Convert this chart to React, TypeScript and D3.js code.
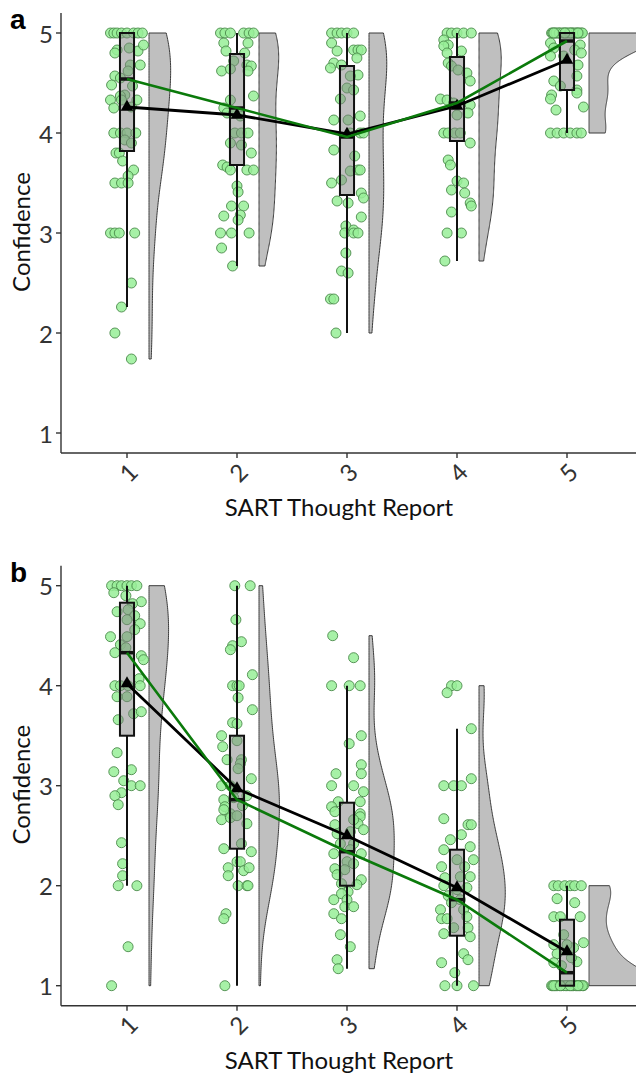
import React from "react";
import * as d3 from "d3";

// ---------- data ----------
const categories = [1, 2, 3, 4, 5];
const xTickLabels = ["1", "2", "3", "4", "5"];
const yTicks = [1, 2, 3, 4, 5];
const panelLetters = ["a", "b"];
const xTitle = "SART Thought Report";
const yTitle = "Confidence";

// jittered raw observations: [jitter offset (category units), confidence]
const pointsA1 = [
  [-0.15, 5], [-0.12, 5], [-0.09, 5], [-0.05, 5], [0.0, 5], [0.06, 5], [0.1, 5], [0.14, 5],
  [-0.09, 4.83], [0.02, 4.85], [0.1, 4.82], [0.15, 4.88], [-0.11, 4.8],
  [0.03, 4.68], [0.12, 4.68], [0.01, 4.62], [-0.11, 4.57], [-0.06, 4.55],
  [-0.14, 4.48], [0.05, 4.47], [-0.02, 4.38], [-0.06, 4.37], [-0.15, 4.33], [-0.05, 4.33], [0.09, 4.33], [-0.12, 4.25], [0.04, 4.26],
  [-0.12, 4], [-0.06, 4], [0.0, 4], [0.08, 4], [-0.02, 3.93], [0.04, 3.9],
  [-0.1, 3.8], [-0.07, 3.8], [-0.04, 3.72], [0.06, 3.63], [0.01, 3.57], [-0.11, 3.5], [-0.05, 3.5], [0.01, 3.5],
  [-0.15, 3], [-0.11, 3], [-0.07, 3], [0.07, 3], [0.04, 2.5], [-0.05, 2.26], [-0.11, 2], [0.04, 1.74],
];
const pointsA2 = [
  [-0.15, 5], [-0.11, 5], [-0.06, 5], [0.06, 5], [0.11, 5], [0.15, 5],
  [-0.12, 4.9], [-0.1, 4.82], [0.1, 4.9], [0.07, 4.8], [-0.03, 4.72], [0.09, 4.68], [0.13, 4.67], [-0.14, 4.62], [-0.06, 4.64], [0.1, 4.62],
  [0.15, 4.37], [-0.06, 4.33], [-0.12, 4.25], [-0.09, 4.2], [-0.03, 4.2], [0.03, 4.17],
  [-0.02, 4], [0.04, 4], [0.1, 4], [-0.06, 3.9], [0.04, 3.88], [0.13, 3.8],
  [-0.13, 3.68], [-0.09, 3.66], [-0.06, 3.63], [0.09, 3.63], [0.15, 3.63],
  [0.0, 3.47], [0.01, 3.41], [-0.05, 3.27], [0.06, 3.27], [0.03, 3.18], [-0.12, 3.17], [0.01, 3.13],
  [-0.15, 3], [-0.05, 3], [0.11, 3], [-0.14, 2.85], [-0.04, 2.67],
];
const pointsA3 = [
  [-0.14, 5], [-0.09, 5], [-0.05, 5], [0.0, 5], [0.06, 5],
  [-0.14, 4.9], [-0.09, 4.82], [0.06, 4.83], [0.1, 4.83], [0.13, 4.83], [0.09, 4.75], [-0.12, 4.7], [-0.15, 4.65], [-0.05, 4.68],
  [0.1, 4.58], [0.03, 4.57], [0.0, 4.45], [0.06, 4.43], [-0.06, 4.34], [0.12, 4.17], [-0.12, 4.13], [0.01, 4.13],
  [0.03, 4], [0.12, 4], [0.15, 4], [-0.12, 3.83], [0.07, 3.77],
  [0.03, 3.62], [0.1, 3.63], [0.12, 3.63], [-0.14, 3.5], [-0.05, 3.53],
  [-0.09, 3.32], [0.13, 3.4], [0.15, 3.35], [0.01, 3.3], [0.13, 3.16],
  [-0.01, 3.07], [0.06, 3.03],
  [-0.02, 3], [0.06, 3], [0.1, 3], [-0.01, 2.8], [-0.05, 2.62], [0.01, 2.6], [-0.15, 2.34], [-0.12, 2.34], [-0.1, 2.0],
];
const pointsA4 = [
  [-0.09, 5], [-0.05, 5], [0.0, 5], [0.06, 5], [0.13, 5],
  [-0.12, 4.93], [-0.08, 4.88], [-0.12, 4.87], [0.04, 4.82], [-0.09, 4.8],
  [-0.08, 4.7], [-0.05, 4.67], [0.01, 4.63], [0.09, 4.6], [0.12, 4.52],
  [-0.15, 4.34], [-0.09, 4.33], [-0.03, 4.3], [0.12, 4.28], [0.1, 4.2], [0.0, 4.18],
  [-0.12, 4], [-0.08, 4], [-0.02, 4], [0.03, 4], [0.12, 3.9],
  [-0.08, 3.73], [-0.06, 3.68], [0.0, 3.52], [0.06, 3.5], [-0.05, 3.43], [0.07, 3.4], [0.12, 3.3], [0.13, 3.27], [-0.05, 3.21],
  [-0.09, 3], [0.04, 3], [-0.11, 2.72],
];
const pointsA5 = [
  [-0.14, 5], [-0.11, 5], [-0.08, 5], [-0.03, 5], [0.0, 5], [0.04, 5], [0.09, 5], [0.13, 5], [-0.06, 5], [0.06, 5],
  [-0.13, 5], [-0.1, 5], [-0.07, 5], [-0.04, 5], [-0.01, 5], [0.02, 5], [0.05, 5], [0.08, 5], [0.11, 5], [0.14, 5],
  [-0.12, 5], [0.03, 5], [0.1, 5], [-0.02, 5],
  [-0.15, 4.9], [-0.12, 4.85], [0.12, 4.88], [0.07, 4.83], [0.13, 4.8], [-0.15, 4.77], [-0.03, 4.77], [0.1, 4.68],
  [0.09, 4.57], [-0.12, 4.52], [-0.06, 4.47], [0.09, 4.43], [-0.14, 4.38], [-0.15, 4.34], [0.09, 4.4], [0.15, 4.26], [-0.1, 4.23],
  [-0.15, 4], [-0.09, 4], [-0.03, 4], [0.03, 4], [0.09, 4], [0.13, 4],
];

const pointsB1 = [
  [-0.14, 5], [-0.09, 5], [-0.05, 5], [0.0, 5], [0.04, 5], [0.09, 5],
  [-0.12, 4.93], [-0.01, 4.9], [0.13, 4.84], [0.05, 4.82], [-0.09, 4.74], [0.01, 4.76], [0.07, 4.7], [0.0, 4.66], [0.12, 4.62], [0.07, 4.56],
  [0.0, 4.49], [-0.15, 4.49], [-0.06, 4.41], [-0.01, 4.38], [-0.11, 4.33], [0.13, 4.3], [0.15, 4.26], [0.11, 4.07],
  [-0.11, 4], [-0.06, 4], [0.01, 4], [0.12, 4], [0.0, 3.89], [-0.09, 3.89], [0.06, 3.72], [0.13, 3.74], [-0.08, 3.66],
  [-0.09, 3.33], [0.04, 3.16], [-0.12, 3.14], [-0.03, 3.05], [0.04, 3], [0.12, 3], [-0.05, 2.93], [-0.11, 2.9], [-0.08, 2.81],
  [-0.05, 2.43], [-0.04, 2.22], [-0.04, 2.1], [-0.08, 2], [0.09, 2], [0.01, 1.39], [-0.14, 1.0],
];
const pointsB2 = [
  [-0.02, 5], [0.12, 5], [-0.01, 4.66], [0.04, 4.44], [-0.04, 4.4], [-0.06, 4.36], [0.14, 4.11],
  [-0.04, 4], [0.0, 4], [0.02, 4], [0.01, 3.88], [0.14, 3.76],
  [-0.04, 3.63], [0.0, 3.62], [-0.14, 3.5], [-0.13, 3.39], [0.0, 3.45], [-0.09, 3.26], [0.04, 3.26], [0.03, 3.22], [0.01, 3.17], [0.13, 3.07],
  [-0.14, 3], [-0.06, 3], [-0.02, 2.96], [-0.12, 2.86], [-0.03, 2.88], [-0.11, 2.79], [-0.06, 2.72], [0.09, 2.9], [0.05, 2.8],
  [-0.12, 2.76], [-0.14, 2.66], [-0.06, 2.68], [0.09, 2.62], [0.0, 2.7], [0.04, 2.42], [0.13, 2.34], [-0.12, 2.37],
  [0.0, 2.24], [0.03, 2.24], [-0.08, 2.18], [0.06, 2.15], [0.11, 2.18], [-0.08, 2.1], [0.01, 2.0], [0.09, 2.0], [0.1, 2.0],
  [-0.1, 1.72], [-0.12, 1.67], [-0.11, 1.0],
];
const pointsB3 = [
  [-0.13, 4.5], [0.06, 4.28], [-0.14, 4], [0.02, 4], [0.12, 4], [0.02, 3.42], [0.13, 3.5], [0.13, 3.21], [0.13, 3.12], [-0.1, 3.12],
  [-0.14, 3], [0.06, 3], [0.15, 2.94], [-0.08, 2.84], [0.12, 2.84],
  [-0.14, 2.79], [-0.11, 2.74], [0.12, 2.72], [0.12, 2.69], [0.1, 2.62], [0.06, 2.66], [-0.11, 2.61], [0.15, 2.56], [0.03, 2.54], [-0.09, 2.52],
  [-0.06, 2.42], [0.06, 2.42], [0.03, 2.36], [-0.12, 2.32], [0.13, 2.32], [0.0, 2.24], [0.06, 2.22], [-0.11, 2.17], [-0.02, 2.16], [-0.09, 2.11],
  [0.13, 2.06], [-0.05, 2.02], [0.09, 2.01], [0.01, 1.94], [-0.05, 1.92], [-0.12, 1.86], [0.0, 1.86], [-0.02, 1.79], [0.06, 1.79],
  [-0.12, 1.72], [-0.05, 1.67], [-0.06, 1.51], [0.03, 1.39], [-0.09, 1.26], [-0.08, 1.17],
];
const pointsB4 = [
  [-0.05, 4], [0.0, 4], [-0.09, 3.93], [0.13, 3.57], [0.13, 3.07], [-0.12, 3], [-0.03, 3], [0.04, 3], [-0.12, 2.67],
  [0.1, 2.61], [0.13, 2.61], [0.04, 2.51], [-0.06, 2.46], [-0.12, 2.36], [0.12, 2.39], [0.15, 2.26], [0.0, 2.26], [0.07, 2.19], [-0.14, 2.19],
  [0.12, 2.09], [0.03, 2.09], [-0.11, 2.08], [-0.12, 2.0], [0.0, 1.96], [0.09, 1.98], [-0.08, 1.9], [0.03, 1.86], [-0.05, 1.83], [0.06, 1.76],
  [-0.15, 1.76], [-0.14, 1.67], [-0.09, 1.67], [0.09, 1.69], [0.1, 1.58], [-0.03, 1.58], [0.12, 1.49], [-0.12, 1.52],
  [0.06, 1.32], [0.1, 1.26], [-0.14, 1.23], [-0.02, 1.13], [-0.11, 1.0], [0.0, 1.0], [0.15, 1.0],
];
const pointsB5 = [
  [-0.12, 2], [-0.08, 2], [-0.02, 2], [0.03, 2], [0.07, 2], [0.13, 2],
  [-0.09, 1.87], [0.07, 1.83], [-0.12, 1.69], [-0.06, 1.69], [0.12, 1.69], [0.15, 1.43], [-0.03, 1.51], [0.06, 1.38],
  [-0.09, 1.32], [-0.12, 1.23], [-0.05, 1.2], [0.09, 1.24], [0.0, 1.41], [0.04, 1.28], [-0.12, 1.41],
  [-0.14, 1], [-0.09, 1], [-0.05, 1], [0.0, 1], [0.04, 1], [0.09, 1], [0.15, 1], [-0.11, 1], [0.06, 1], [0.12, 1],
  [-0.13, 1], [-0.1, 1], [-0.07, 1], [-0.03, 1], [0.02, 1], [0.05, 1], [0.08, 1], [0.11, 1], [0.14, 1],
  [-0.12, 1], [-0.01, 1], [0.03, 1], [0.1, 1], [-0.06, 1],
];

// box-plot summaries
const q1A = [3.82, 3.68, 3.38, 3.92, 4.43];
const medianA = [4.54, 4.25, 3.96, 4.3, 4.92];
const q3A = [5.0, 4.79, 4.67, 4.76, 5.0];
const whiskerLoA = [2.26, 2.67, 2.0, 2.72, 4.0];
const whiskerHiA = [5, 5, 5, 5, 5];
const meanA = [4.26, 4.18, 3.99, 4.27, 4.73];

const q1B = [3.5, 2.37, 2.0, 1.5, 1.0];
const medianB = [4.33, 2.86, 2.34, 1.86, 1.13];
const q3B = [4.83, 3.5, 2.83, 2.36, 1.66];
const whiskerLoB = [2.0, 1.0, 1.17, 1.0, 1.0];
const whiskerHiB = [5.0, 5.0, 4.0, 3.57, 2.0];
const meanB = [4.02, 2.97, 2.5, 1.98, 1.34];

// ---------- helpers ----------
function bwNrd0(v: number[]) {
  const s = [...v].sort((a, b) => a - b);
  const sd = d3.deviation(s) || 0;
  const iqr = (d3.quantileSorted(s, 0.75) as number) - (d3.quantileSorted(s, 0.25) as number);
  let lo = Math.min(sd, iqr / 1.34);
  if (!(lo > 0)) lo = sd || 1;
  return 0.9 * lo * Math.pow(s.length, -0.2);
}

function kde(v: number[]): [number, number][] {
  const bw = bwNrd0(v);
  const [mn, mx] = d3.extent(v) as [number, number];
  const c = 1 / (v.length * bw * Math.sqrt(2 * Math.PI));
  return d3.range(0, 201).map((i) => {
    const y = mn + ((mx - mn) * i) / 200;
    return [y, c * d3.sum(v, (x) => Math.exp(-0.5 * ((y - x) / bw) ** 2))];
  });
}

const FONT = "Lato, 'Open Sans', sans-serif";
const W = 636;
const H = 1075;
const VIOLIN_HALF = 0.62;

type PanelProps = {
  groups: number[][][];
  q1: number[];
  med: number[];
  q3: number[];
  lo: number[];
  hi: number[];
  mean: number[];
  top: number;
  letter: string;
};

function Panel({ groups, q1, med, q3, lo, hi, mean, top, letter }: PanelProps) {
  const x = d3.scaleLinear().domain([1, 5]).range([127, 567]);
  const y = d3.scaleLinear().domain([1, 5]).range([top + 400, top]);
  const axisX = x(0.4);
  const axisY = y(0.8);
  const dens = groups.map((g) => kde(g.map((p) => p[1])));
  const maxD = d3.max(dens, (d) => d3.max(d, (p) => p[1])) as number;
  const boxHalf = 0.064;

  const area = (cat: number) =>
    d3
      .area<[number, number]>()
      .y((d) => y(d[0]))
      .x0(x(cat + 0.2))
      .x1((d) => x(cat + 0.2 + (d[1] / maxD) * VIOLIN_HALF));

  const seriesLine = d3
    .line<number>()
    .x((_, i) => x(categories[i]))
    .y((d) => y(d));

  const tri = d3.symbol().type(d3.symbolTriangle).size(70)() as string;

  return (
    <g>
      {categories.map((c, i) => (
        <path key={"v" + i} d={area(c)(dens[i]) as string} fill="#bfbfbf" stroke="#3a3a3a" strokeWidth={1} />
      ))}
      {groups.map((g, i) =>
        g.map((p, j) => (
          <circle
            key={"p" + i + "-" + j}
            cx={x(categories[i] + p[0])}
            cy={y(p[1])}
            r={5}
            fill="#98ee98"
            fillOpacity={0.85}
            stroke="#4b8a4b"
            strokeWidth={0.9}
          />
        ))
      )}
      {categories.map((c, i) => (
        <g key={"w" + i}>
          <line x1={x(c)} x2={x(c)} y1={y(lo[i])} y2={y(q1[i])} stroke="#111" strokeWidth={2} />
          <line x1={x(c)} x2={x(c)} y1={y(q3[i])} y2={y(hi[i])} stroke="#111" strokeWidth={2} />
        </g>
      ))}
      {categories.map((c, i) => (
        <g key={"b" + i}>
          <rect
            x={x(c - boxHalf)}
            y={y(q3[i])}
            width={x(c + boxHalf) - x(c - boxHalf)}
            height={y(q1[i]) - y(q3[i])}
            fill="rgba(128,128,128,0.5)"
            stroke="#111"
            strokeWidth={2}
          />
          <line x1={x(c - boxHalf)} x2={x(c + boxHalf)} y1={y(med[i])} y2={y(med[i])} stroke="#111" strokeWidth={3.5} />
        </g>
      ))}
      <path d={seriesLine(mean) as string} fill="none" stroke="#000" strokeWidth={2.8} />
      {categories.map((c, i) => (
        <path key={"t" + i} d={tri} transform={`translate(${x(c)},${y(mean[i])})`} fill="#000" />
      ))}
      <path d={seriesLine(med) as string} fill="none" stroke="#0b7a0b" strokeWidth={2.6} />

      <line x1={axisX} x2={axisX} y1={y(5.2)} y2={axisY} stroke="#333" strokeWidth={1.4} />
      <line x1={axisX} x2={W} y1={axisY} y2={axisY} stroke="#333" strokeWidth={1.4} />
      {yTicks.map((t) => (
        <g key={"yt" + t}>
          <line x1={axisX - 5} x2={axisX} y1={y(t)} y2={y(t)} stroke="#333" strokeWidth={1.4} />
          <text x={axisX - 8} y={y(t)} textAnchor="end" dominantBaseline="central" fontFamily={FONT} fontSize={24} fill="#333">
            {String(t)}
          </text>
        </g>
      ))}
      {categories.map((c, i) => (
        <g key={"xt" + i}>
          <line x1={x(c)} x2={x(c)} y1={axisY} y2={axisY + 5} stroke="#333" strokeWidth={1.4} />
          <text
            transform={`translate(${x(c) + 1},${axisY + 19}) rotate(-45)`}
            textAnchor="middle"
            dominantBaseline="central"
            fontFamily={FONT}
            fontSize={24}
            fill="#333"
          >
            {xTickLabels[i]}
          </text>
        </g>
      ))}
      <text x={339} y={axisY + 63} textAnchor="middle" fontFamily={FONT} fontSize={24} fill="#111">
        {xTitle}
      </text>
      <text
        transform={`translate(30,${y(3) - 1}) rotate(-90)`}
        textAnchor="middle"
        fontFamily={FONT}
        fontSize={24}
        fill="#111"
      >
        {yTitle}
      </text>
      <text x={10} y={top - 4} fontFamily="Arial, 'Liberation Sans', sans-serif" fontWeight="bold" fontSize={28} fill="#000">
        {letter}
      </text>
    </g>
  );
}

export default function App() {
  return (
    <svg
      width={W}
      height={H}
      viewBox={`0 0 ${W} ${H}`}
      style={{ position: "absolute", left: 0, top: 0, background: "#fff", display: "block" }}
    >
      <rect width={W} height={H} fill="#fff" />
      <Panel
        groups={[pointsA1, pointsA2, pointsA3, pointsA4, pointsA5]}
        q1={q1A}
        med={medianA}
        q3={q3A}
        lo={whiskerLoA}
        hi={whiskerHiA}
        mean={meanA}
        top={33}
        letter={panelLetters[0]}
      />
      <Panel
        groups={[pointsB1, pointsB2, pointsB3, pointsB4, pointsB5]}
        q1={q1B}
        med={medianB}
        q3={q3B}
        lo={whiskerLoB}
        hi={whiskerHiB}
        mean={meanB}
        top={585.7}
        letter={panelLetters[1]}
      />
    </svg>
  );
}
